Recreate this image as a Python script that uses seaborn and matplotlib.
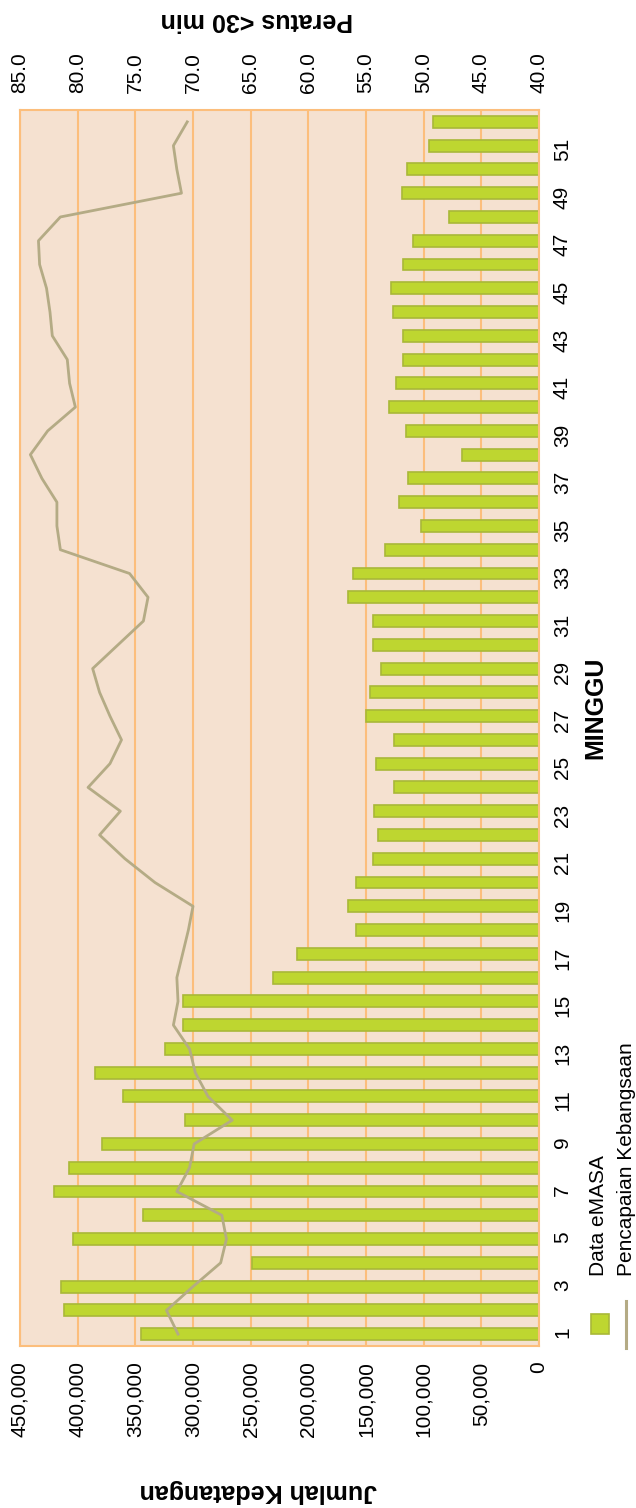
import numpy as np
import pandas as pd
import matplotlib
matplotlib.use("Agg")
import matplotlib.pyplot as plt
import seaborn as sns
from matplotlib.patches import Rectangle
from matplotlib.lines import Line2D
from matplotlib.ticker import FuncFormatter

# ---------------- data ----------------
weeks = list(range(1, 53))
arrivals = [345000, 411800, 414500, 248800, 404000, 343400, 420500, 407500, 378900, 306900,
            360700, 385000, 324300, 308700, 308700, 230600, 209800, 158700, 165600, 158700,
            143900, 139600, 143100, 125700, 141300, 125700, 150000, 146500, 137000, 143900,
            143900, 165600, 161300, 133500, 102300, 121400, 113500, 66800, 115300, 130000,
            124000, 117900, 117900, 126600, 128300, 117900, 109200, 78000, 118800, 114500,
            95400, 91900]
pct_under30 = [71.3, 72.3, 70.0, 67.6, 67.1, 67.5, 71.4, 70.3, 69.9, 66.6,
               68.7, 69.8, 70.3, 71.7, 71.3, 71.4, 70.9, 70.4, 70.0, 73.3,
               75.9, 78.1, 76.3, 79.1, 77.2, 76.2, 77.2, 78.1, 78.7, 76.5,
               74.3, 73.9, 75.5, 81.5, 81.8, 81.8, 83.1, 84.1, 82.6, 80.2,
               80.7, 80.9, 82.2, 82.4, 82.7, 83.3, 83.4, 81.5, 71.0, 71.4,
               71.7, 70.5]
week_ticks = list(range(1, 53, 2))
arrival_ticks = list(range(0, 450001, 50000))
pct_ticks = [40, 45, 50, 55, 60, 65, 70, 75, 80, 85]

series_bar = "Data eMASA"
series_line = "Pencapaian Kebangsaan"
xlabel = "Jumlah Kedatangan"
x2label = "Peratus <30 min"
ylabel = "MINGGU"

# ---------------- style ----------------
plt.rcParams['font.family'] = ['Liberation Sans', 'DejaVu Sans']
BG = '#F5E1D0'
GRID = '#FCBE7C'
BAR = '#BED630'
BAR_EDGE = '#A9B838'
LINE = '#B4AB85'

W, H = 636, 1508
fig = plt.figure(figsize=(W / 100, H / 100), dpi=100)
ax = fig.add_axes([20 / W, 162 / H, 519 / W, 1236 / H])
ax.set_facecolor(BG)

df = pd.DataFrame({"week": weeks, "arrivals": arrivals, "pct": pct_under30})

sns.barplot(data=df, x="arrivals", y="week", orient="h", native_scale=True,
            width=0.5, color=BAR, edgecolor=BAR_EDGE, linewidth=1.2,
            saturation=1, errorbar=None, ax=ax)

ax.set_xlim(450000, 0)
ax.set_ylim(0.5, 52.5)
ax.set_xticks(arrival_ticks)
ax.xaxis.set_major_formatter(FuncFormatter(lambda v, p: f"{int(v):,}"))
ax.set_yticks(week_ticks)
ax.set_yticklabels([str(w) for w in week_ticks])
ax.yaxis.tick_right()
ax.tick_params(axis='x', labelrotation=90, length=0, pad=11, labelsize=15)
ax.tick_params(axis='y', labelrotation=90, length=0, pad=10, labelsize=15)
ax.set_xlabel("")
ax.set_ylabel("")
ax.grid(axis='x', color=GRID, lw=1.5)
ax.grid(axis='y', visible=False)
ax.set_axisbelow(True)
for s in ax.spines.values():
    s.set_color(GRID)
    s.set_linewidth(1.5)

ax2 = ax.twiny()
sns.lineplot(data=df, x="pct", y="week", orient="y", color=LINE, lw=2,
             ax=ax2, legend=False)
ax2.set_xlim(85, 40)
ax2.set_ylim(0.5, 52.5)
ax2.set_xticks(pct_ticks)
ax2.xaxis.set_major_formatter(FuncFormatter(lambda v, p: f"{v:.1f}"))
ax2.tick_params(axis='x', labelrotation=90, length=0, pad=12, labelsize=15)
ax2.set_xlabel("")
ax2.set_ylabel("")
for s in ax2.spines.values():
    s.set_visible(False)

# axis titles (rotated like the reference)
fig.text(258 / W, 1 - 1491 / H, xlabel, rotation=180, fontsize=18, fontweight='bold',
         ha='center', va='center')
fig.text(257 / W, 1 - 20 / H, x2label, rotation=180, fontsize=18, fontweight='bold',
         ha='center', va='center')
fig.text(595 / W, 1 - 708 / H, ylabel, rotation=90, fontsize=18, fontweight='bold',
         ha='center', va='center')

# legend (rotated)
fig.add_artist(Rectangle((591 / W, 1 - 1334 / H), 18 / W, 20 / H, transform=fig.transFigure,
                         facecolor=BAR, edgecolor=BAR_EDGE, lw=1.2))
fig.add_artist(Line2D([626 / W, 626 / W], [1 - 1348 / H, 1 - 1301 / H],
                      transform=fig.transFigure, color=LINE, lw=2.2))
fig.text(599 / W, 1 - 1276 / H, series_bar, rotation=90, fontsize=15,
         ha='center', va='bottom')
fig.text(626 / W, 1 - 1276 / H, series_line, rotation=90, fontsize=15,
         ha='center', va='bottom')

fig.savefig("out.png", dpi=100)
